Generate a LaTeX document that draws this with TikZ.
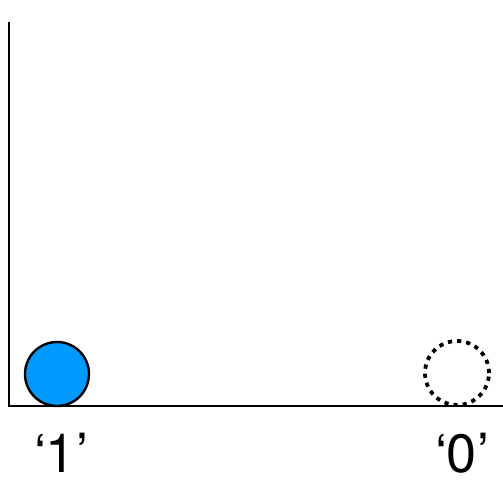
\documentclass[tikz,border=0pt]{standalone}
\usepackage{fontspec}
\setmainfont{TeX Gyre Heros}
\definecolor{ballblue}{HTML}{0099FF}
\begin{document}
\begin{tikzpicture}[x=1pt,y=1pt,
  axis/.style={line width=2.6pt},
  ball/.style={circle,draw=black,line width=2.4pt,fill=ballblue,minimum size=64pt,inner sep=0pt},
  ghost/.style={circle,draw=black,line width=3.8pt,dash pattern=on 4.2pt off 5pt,minimum size=64pt,inner sep=0pt},
  lbl/.style={font=\fontsize{54}{58}\selectfont,anchor=base,inner sep=0pt}]
\useasboundingbox (0,0) rectangle (503,479);
\coordinate (top) at (9,457);
\coordinate (origin) at (9,73);
\coordinate (right) at (503,73);
\draw[axis] (top) -- (origin) -- (right);
\node[ball] (one) at (57,105) {};
\node[ghost] (zero) at (457,106) {};
\node[lbl] (l1) at (61,6) {‘1’};
\node[lbl] (l0) at (462,6) {‘0’};
\end{tikzpicture}
\end{document}
